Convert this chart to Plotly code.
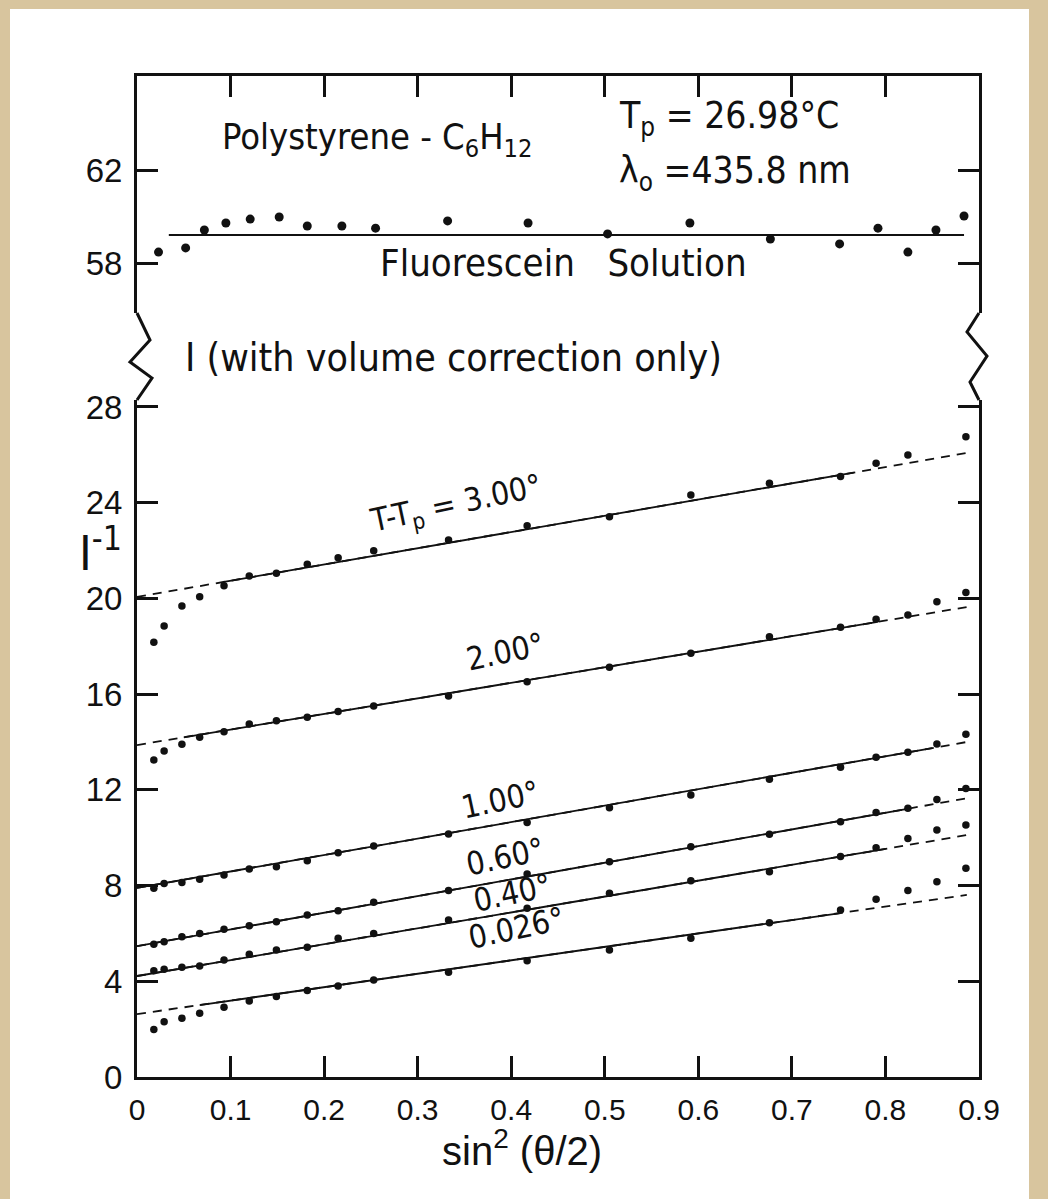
import numpy as np
import plotly.graph_objects as go

# ---- data -------------------------------------------------------------
# sin^2(theta/2) of the scattering angles used for the polymer runs
sin2_half = [0.018, 0.029, 0.048, 0.067, 0.093, 0.120, 0.149, 0.182, 0.215, 0.253,
             0.333, 0.417, 0.505, 0.592, 0.676, 0.752, 0.790, 0.824, 0.855, 0.886]

# inverse scattered intensity I^-1 for each T - Tp
inv_I_300 = [18.17, 18.85, 19.68, 20.07, 20.53, 20.94, 21.05, 21.43, 21.70, 21.99,
             22.44, 23.04, 23.41, 24.32, 24.81, 25.09, 25.65, 25.99, None, 26.76]
inv_I_200 = [13.25, 13.62, 13.90, 14.20, 14.43, 14.75, 14.89, 15.03, 15.27, 15.50,
             15.92, 16.52, 17.12, 17.71, 18.40, 18.79, 19.13, 19.31, 19.86, 20.25]
inv_I_100 = [7.89, 8.09, 8.13, 8.26, 8.44, 8.69, 8.79, 9.04, 9.37, 9.65,
             10.15, 10.64, 11.25, 11.78, 12.44, 12.94, 13.36, 13.57, 13.92, 14.32]
inv_I_060 = [5.55, 5.65, 5.86, 6.00, 6.17, 6.32, 6.49, 6.77, 6.95, 7.30,
             7.79, 8.48, 9.00, 9.62, 10.14, 10.67, 11.05, 11.23, 11.60, 12.06]
inv_I_040 = [4.44, 4.50, 4.59, 4.64, 4.89, 5.13, 5.31, 5.42, 5.80, 6.00,
             6.56, 7.05, 7.68, 8.20, 8.58, 9.21, 9.58, 9.97, 10.32, 10.53]
inv_I_0026 = [1.99, 2.31, 2.45, 2.66, 2.91, 3.18, 3.36, 3.61, 3.80, 4.05,
              4.38, 4.86, 5.31, 5.80, 6.45, 6.98, 7.43, 7.79, 8.16, 8.72]

series_labels = ["T-T<sub>p</sub> = 3.00°", "2.00°", "1.00°", "0.60°", "0.40°", "0.026°"]
series_values = [inv_I_300, inv_I_200, inv_I_100, inv_I_060, inv_I_040, inv_I_0026]

# straight-line fits: value at sin^2 = 0 and at the right end, plus the
# range over which the fit is drawn solid (dashed outside it)
fit_x_end = 0.887
fit_at_0 = [20.06, 13.87, 7.90, 5.47, 4.22, 2.63]
fit_at_end = [26.08, 19.64, 14.00, 11.65, 10.11, 7.61]
solid_from = [0.093, 0.050, 0.0, 0.0, 0.0, 0.067]
solid_to = [0.766, 0.790, 0.850, 0.825, 0.800, 0.752]

# fluorescein reference (I, volume correction only)
sin2_half_fl = [0.023, 0.052, 0.072, 0.095, 0.121, 0.152, 0.182, 0.219, 0.255, 0.332,
                0.418, 0.503, 0.591, 0.677, 0.751, 0.792, 0.824, 0.854, 0.884]
I_fluor = [58.47, 58.65, 59.42, 59.72, 59.89, 59.98, 59.59, 59.59, 59.50, 59.81,
           59.72, 59.25, 59.72, 59.03, 58.82, 59.50, 58.47, 59.42, 60.02]
fluor_level = 59.2
fluor_x_range = [0.034, 0.884]

x_ticks = [0, 0.1, 0.2, 0.3, 0.4, 0.5, 0.6, 0.7, 0.8, 0.9]
x_ticktext = ["0", "0.1", "0.2", "0.3", "0.4", "0.5", "0.6", "0.7", "0.8", "0.9"]
y_ticks_low = [0, 4, 8, 12, 16, 20, 24, 28]
y_ticks_high = [58, 62]

# ---- layout geometry (pixels) ----------------------------------------
W, H = 1048, 1199
L, R, T, B = 137, 979, 76, 1077          # plot frame
LOW_TOP, HIGH_BOT = 400, 313             # edges of the axis break
PW, PH = R - L, B - T
LOW_SCALE, HIGH_SCALE = 23.93, 23.25     # pixels per unit on each y segment
Y58_PX = 263                             # pixel row of the 58 tick


def px(x):
    return (x - L) / PW


def py(y):
    return (B - y) / PH


NARROW = "Liberation Sans Narrow, DejaVu Sans Condensed, Arial, sans-serif"
REGULAR = "Liberation Sans, Arial, sans-serif"
INK = "#111111"

fig = go.Figure()

# fitted lines: full-length dashed, solid over the fitted range
for i in range(len(series_values)):
    xs = [0.0, fit_x_end]
    ys = [fit_at_0[i], fit_at_end[i]]
    fig.add_trace(go.Scatter(x=xs, y=ys, mode="lines", xaxis="x", yaxis="y",
                             line=dict(color=INK, width=1.8, dash="9px,7px"),
                             hoverinfo="skip", showlegend=False))
    sx = [solid_from[i], solid_to[i]]
    sy = list(np.interp(sx, xs, ys))
    fig.add_trace(go.Scatter(x=sx, y=sy, mode="lines", xaxis="x", yaxis="y",
                             line=dict(color=INK, width=1.8),
                             hoverinfo="skip", showlegend=False))

for i, vals in enumerate(series_values):
    fig.add_trace(go.Scatter(x=sin2_half, y=vals, mode="markers", xaxis="x", yaxis="y",
                             marker=dict(color=INK, size=7.5), name=series_labels[i],
                             showlegend=False))

fig.add_trace(go.Scatter(x=fluor_x_range, y=[fluor_level, fluor_level], mode="lines",
                         xaxis="x2", yaxis="y2", line=dict(color=INK, width=2),
                         hoverinfo="skip", showlegend=False))
fig.add_trace(go.Scatter(x=sin2_half_fl, y=I_fluor, mode="markers", xaxis="x2", yaxis="y2",
                         marker=dict(color=INK, size=9), name="Fluorescein Solution",
                         showlegend=False))

axis_common = dict(showgrid=False, zeroline=False, showline=True, linecolor=INK,
                   linewidth=3, ticks="inside", tickcolor=INK, tickwidth=2.5,
                   ticklen=21, tickfont=dict(family=REGULAR, size=33, color=INK))

fig.update_layout(
    width=W, height=H,
    margin=dict(l=L, r=W - R, t=T, b=H - B),
    paper_bgcolor="#d8c59e", plot_bgcolor="white",
    font=dict(family=NARROW, color=INK),
    showlegend=False,
    xaxis=dict(axis_common, anchor="y", range=[0, 0.9], tickvals=x_ticks,
               ticktext=x_ticktext, tickfont=dict(family=REGULAR, size=30, color=INK),
               ticklabelstandoff=4),
    xaxis2=dict(axis_common, anchor="y2", matches="x", side="top",
                tickvals=x_ticks[1:-1], showticklabels=False),
    yaxis=dict(axis_common, domain=[0, py(LOW_TOP)], range=[0, (B - LOW_TOP) / LOW_SCALE],
               tickvals=y_ticks_low, mirror="ticks", ticklabelstandoff=5),
    yaxis2=dict(axis_common, domain=[py(HIGH_BOT), 1],
                range=[58 - (HIGH_BOT - Y58_PX) / HIGH_SCALE,
                       58 + (Y58_PX - T) / HIGH_SCALE],
                tickvals=y_ticks_high, mirror="ticks", ticklabelstandoff=5),
)

# white sheet over the beige border
shapes = [dict(type="rect", xref="paper", yref="paper", layer="below",
               x0=px(10), x1=px(1029), y0=py(H + 5), y1=py(9),
               fillcolor="white", line=dict(width=0))]


def squiggle(points):
    d = "M " + " L ".join(f"{px(x):.5f},{py(y):.5f}" for x, y in points)
    return dict(type="path", xref="paper", yref="paper", path=d,
                line=dict(color=INK, width=3))


shapes.append(squiggle([(L, HIGH_BOT), (150, 340), (130, 362), (152, 378), (L, LOW_TOP)]))
shapes.append(squiggle([(R, HIGH_BOT), (967, 332), (987, 356), (970, 382), (R, LOW_TOP)]))
fig.update_layout(shapes=shapes)

ann = []


def text(t, x, y, xref="x", yref="y", size=32, angle=0, xanchor="center", family=NARROW):
    ann.append(dict(text=t, x=x, y=y, xref=xref, yref=yref, showarrow=False,
                    textangle=angle, xanchor=xanchor, yanchor="middle",
                    font=dict(family=family, size=size, color=INK)))


# curve labels along the fitted lines
label_pos = [(0.341, 23.9), (0.393, 17.76), (0.388, 11.58),
             (0.393, 9.19), (0.401, 7.69), (0.406, 6.23)]
for lab, (lx, ly) in zip(series_labels, label_pos):
    text(lab, lx, ly, size=32, angle=-12)

text("Polystyrene - C<sub>6</sub>H<sub>12</sub>", px(220), 63.3, xref="paper", yref="y2",
     xanchor="left", size=36)
text("T<sub>p</sub> = 26.98°C", px(617), 64.25, xref="paper", yref="y2", xanchor="left",
     size=37)
text("λ<sub>o</sub> =435.8 nm", px(617), 61.85, xref="paper", yref="y2", xanchor="left",
     size=37)
text("Fluorescein   Solution", px(563), 58.0, xref="paper", yref="y2", size=38)
text("I (with volume correction only)", px(183), py(357), xref="paper", yref="paper",
     xanchor="left", size=39)
text("I<sup>-1</sup>", px(77), py(550), xref="paper", yref="paper", size=48,
     xanchor="left")
text("sin<sup>2</sup> (θ/2)", px(522), py(1148), xref="paper", yref="paper", size=40,
     family=REGULAR)

fig.update_layout(annotations=ann)

fig.write_html("out.html")
